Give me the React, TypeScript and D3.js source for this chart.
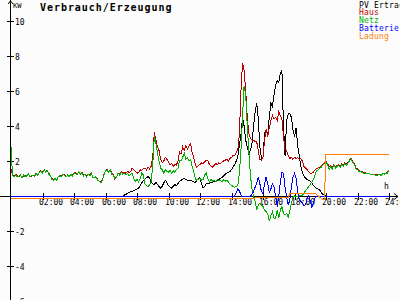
import React from 'react';
import * as d3 from 'd3';

// ---- data (kW), sampled every 0.1 h ----
const STEP_H = 0.1;

const hausKW = [
  1.55, 1.2, 1.1, 1.25, 1.15, 1.1, 1.2, 1.05, 1.15, 1.2,
  1.1, 1.25, 1.15, 1.1, 1.2, 1.15, 1.3, 1.2, 1.35, 1.45,
  1.35, 1.5, 1.4, 1.45, 1.3, 1.15, 1.0, 0.9, 1.0, 0.95,
  1.1, 1.2, 1.15, 1.25, 1.2, 1.1, 1.2, 1.15, 1.25, 1.2,
  1.3, 1.35, 1.25, 1.4, 1.3, 1.35, 1.2, 1.25, 1.15, 1.25,
  1.2, 1.3, 1.1, 1.05, 1.1, 0.95, 0.85, 0.8, 0.9, 1.25,
  1.45, 1.5, 1.4, 1.5, 1.3, 1.2, 0.95, 1.1, 1.3, 1.25,
  1.4, 1.3, 1.35, 1.3, 1.4, 1.35, 1.4, 1.6, 1.5, 1.4,
  1.3, 1.35, 1.5, 1.45, 1.55, 1.6, 1.5, 1.65, 1.55, 1.7,
  2.2, 3.64, 3.2, 2.8, 2.6, 2.1, 1.9, 2.0, 2.2, 2.1,
  1.95, 1.8, 1.85, 1.7, 1.8, 1.75, 2.0, 2.5, 2.4, 2.8,
  2.6, 2.9, 2.7, 2.85, 3.0, 2.5, 2.2, 1.8, 1.65, 1.75,
  1.8, 1.9, 1.85, 1.95, 2.05, 2.0, 1.8, 1.7, 1.65, 1.75,
  1.85, 1.8, 1.9, 1.85, 1.95, 2.0, 2.05, 2.1, 2.0, 2.15,
  2.2, 2.35, 2.3, 2.5, 2.65, 3.5, 6.0, 7.6, 7.2, 6.0,
  4.5, 3.6, 3.3, 3.2, 3.2, 3.1, 3.1, 2.6, 2.1, 2.05,
  2.2, 3.2, 3.8, 3.4, 3.9, 4.3, 4.6, 4.4, 4.5, 4.3,
  4.8, 4.6, 4.4, 3.4, 2.6, 2.6, 2.3, 2.15, 2.2, 2.1,
  2.2, 2.15, 2.2, 2.1, 2.15, 2.0, 1.7, 1.6, 1.5, 1.4,
  1.3, 1.3, 1.35, 1.5, 1.55, 1.6, 1.65, 1.7, 1.8, 1.9,
  2.0, 1.85, 1.65, 1.75, 1.6, 1.8, 1.65, 1.75, 1.8, 1.7,
  1.85, 1.75, 1.9, 1.8, 1.95, 2.05, 2.15, 1.95, 1.85, 1.6,
  1.55, 1.45, 1.4, 1.4, 1.3, 1.35, 1.25, 1.3, 1.25, 1.2,
  1.25, 1.2, 1.25, 1.2, 1.25, 1.2, 1.3, 1.25, 1.3, 1.35,
  1.5,
];

const netzKW = [
  2.8, 1.15, 1.1, 1.2, 1.1, 1.15, 1.2, 1.05, 1.2, 1.1,
  1.15, 1.25, 1.1, 1.15, 1.2, 1.1, 1.3, 1.15, 1.35, 1.4,
  1.3, 1.5, 1.35, 1.45, 1.25, 1.15, 0.95, 0.9, 1.0, 0.9,
  1.1, 1.15, 1.1, 1.25, 1.15, 1.1, 1.2, 1.1, 1.25, 1.15,
  1.3, 1.3, 1.2, 1.4, 1.25, 1.35, 1.15, 1.25, 1.1, 1.25,
  1.15, 1.3, 1.05, 1.05, 1.1, 0.9, 0.85, 0.75, 0.9, 1.2,
  1.45, 1.45, 1.35, 1.5, 1.25, 1.2, 1.0, 1.05, 1.3, 1.2,
  1.35, 1.25, 1.3, 1.2, 1.3, 1.15, 1.25, 1.3, 1.0, 0.85,
  0.95, 0.8, 1.0, 1.3, 1.2, 0.7, 0.6, 0.5, 0.65, 0.8,
  1.8, 3.4, 3.0, 2.45, 2.0, 1.6, 1.5, 1.3, 1.5, 1.4,
  1.35, 1.5, 1.3, 1.45, 1.35, 1.5, 1.6, 2.05, 2.0, 2.2,
  2.45, 2.1, 2.2, 2.0, 2.1, 1.7, 1.4, 1.0, 0.9, 0.95,
  1.0, 0.9, 0.95, 1.2, 1.3, 1.0, 0.8, 0.95, 0.85, 0.9,
  0.8, 0.95, 0.85, 0.9, 0.8, 0.95, 0.85, 0.9, 0.8, 0.7,
  0.6, 0.55, 0.5, 0.55, 0.6, 1.3, 2.6, 4.5, 6.3, 5.8,
  4.0, 2.6, 1.2, 0.4, 0.0, -0.3, -0.8, -0.5, -0.4, -0.5,
  -0.6, -0.8, -0.9, -1.0, -1.45, -1.1, -0.9, -1.25, -1.3, -0.8,
  -1.25, -0.8, -0.6, -1.0, -1.1, -1.0, -1.2, -0.9, -0.4, -0.1,
  0.0, -0.05, 0.0, 0.05, 0.0, 0.05, 0.15, 0.3, 0.4, 0.55,
  0.65, 0.8, 0.95, 1.2, 1.45, 1.5, 1.6, 1.65, 1.75, 1.85,
  1.95, 1.8, 1.5, 1.7, 1.55, 1.75, 1.6, 1.7, 1.75, 1.65,
  1.8, 1.7, 1.85, 1.75, 1.9, 2.0, 2.15, 1.9, 1.8, 1.55,
  1.5, 1.4, 1.4, 1.35, 1.3, 1.3, 1.25, 1.3, 1.25, 1.2,
  1.25, 1.2, 1.2, 1.2, 1.25, 1.15, 1.3, 1.25, 1.3, 1.3,
  1.5,
];

const PV_START_H = 7;
const pvKW = [
  0, 0, 0.05, 0.1, 0.15, 0.2, 0.25, 0.28, 0.3, 0.35,
  0.4, 0.45, 0.6, 0.75, 0.9, 0.95, 1.05, 1.1, 1.05, 0.8,
  0.7, 0.65, 0.8, 0.65, 0.55, 0.45, 0.55, 0.75, 0.9, 0.75,
  0.6, 0.5, 0.45, 0.55, 0.65, 0.6, 0.7, 0.85, 0.9, 0.95,
  1.0, 0.95, 0.9, 0.85, 0.9, 0.85, 0.8, 0.75, 0.9, 1.0,
  1.05, 0.7, 0.45, 0.55, 0.7, 0.75, 0.72, 0.78, 0.8, 0.82,
  0.85, 0.9, 0.95, 1.0, 1.05, 1.15, 1.25, 1.3, 1.35, 1.4,
  1.5, 1.65, 1.8, 2.0, 2.25, 2.9, 3.5, 4.5, 4.0, 3.2,
  2.8, 2.4, 2.6, 3.0, 4.0, 4.8, 5.3, 4.4, 2.8, 2.15,
  2.2, 3.6, 3.8, 3.5, 4.5, 5.3, 5.1, 5.8, 6.3, 6.6,
  6.5, 7.0, 7.2, 4.0, 2.3, 4.3, 4.7, 4.7, 4.5, 3.8,
  3.4, 3.9, 2.9, 2.3, 1.7, 1.35, 1.15, 1.0, 0.95, 0.9,
  0.85, 0.75, 0.6, 0.5, 0.45, 0.4, 0.35, 0.2, 0.1, 0.05,
  0,
];

// [hour, kW]
const batteriePts: [number, number][] = [
  [0, 0], [14.2, 0], [14.3, 0.2], [14.4, 0.4], [14.5, 0.3], [14.6, 0.05], [14.65, 0],
  [15.2, 0], [15.3, 0.1], [15.4, 0.25], [15.5, 0.5], [15.6, 0.7], [15.7, 1.1], [15.8, 0.7],
  [15.9, 0.25], [16.0, 0.15], [16.1, 0.7], [16.2, 1.1], [16.3, 0.7], [16.4, 0.2], [16.5, 0.4],
  [16.6, 0.7], [16.7, 0.5], [16.8, 0.0], [16.9, -0.6], [17.0, 0.0], [17.1, 0.8], [17.2, 1.35],
  [17.3, 1.3], [17.4, 0.5], [17.5, -0.05], [17.6, -0.5], [17.7, -0.25], [17.8, 0.5], [17.9, 1.05],
  [18.0, 1.3], [18.1, 1.0], [18.2, 0.3], [18.3, -0.2], [18.4, -0.3], [18.5, -0.4], [18.6, -0.55],
  [18.7, -0.5], [18.8, -0.1], [18.9, 0], [19.0, -0.3], [19.1, -0.65], [19.2, -0.4], [19.3, -0.1],
  [19.4, 0], [24, 0],
];

const ladungPts: [number, number][] = [
  [0, -0.17], [15.4, -0.17], [15.5, -0.1], [17.6, -0.1], [17.7, 0.15], [19.3, 0.15],
  [19.8, -0.2], [19.93, -0.2], [19.95, 2.38], [24, 2.38],
];

const xTickHours = [2, 4, 6, 8, 10, 12, 14, 16, 18, 20, 22, 24];
const xTickLabels = ['02:00', '04:00', '06:00', '08:00', '10:00', '12:00', '14:00', '16:00', '18:00', '20:00', '22:00', '24:00'];
const yTickValues = [-6, -4, -2, 2, 4, 6, 8, 10];
const legendLabels = ['PV Ertrag', 'Haus', 'Netz', 'Batterie', 'Ladung'];
const legendColors = ['#000000', '#c00000', '#00b000', '#0000ff', '#ff8000'];
const titleText = 'Verbrauch/Erzeugung';

const MONO = '"DejaVu Sans Mono", "Liberation Mono", monospace';

export default function App() {
  const W = 400;
  const H = 300;
  const x = d3.scaleLinear().domain([0, 24]).range([11, 389]);
  const y = d3.scaleLinear().domain([0, 10]).range([196, 21]);

  const uniform = (vals: number[], start: number): [number, number][] =>
    vals.map((v, i) => [start + i * STEP_H, v]);

  const line = d3
    .line<[number, number]>()
    .x((d) => x(d[0]))
    .y((d) => y(d[1]));

  const series = [
    { pts: uniform(pvKW, PV_START_H), color: legendColors[0] },
    { pts: uniform(hausKW, 0), color: legendColors[1] },
    { pts: uniform(netzKW, 0), color: legendColors[2] },
    { pts: batteriePts, color: legendColors[3] },
    { pts: ladungPts, color: legendColors[4] },
  ];

  const axisX = 10.5;
  const axisY = y(0) + 0.5;

  return (
    <svg
      width={W}
      height={H}
      style={{ position: 'absolute', left: 0, top: 0, background: '#fcfcfc' }}
    >
      <rect x={0} y={0} width={W} height={H} fill="#fcfcfc" />
      {/* axes */}
      <g stroke="#000" strokeWidth={1} shapeRendering="crispEdges" fill="none">
        <line x1={axisX} y1={0} x2={axisX} y2={H} />
        <line x1={0} y1={axisY} x2={398} y2={axisY} />
        <polyline points={`${axisX - 2.5},4 ${axisX},1 ${axisX + 2.5},4`} shapeRendering="auto" />
        <polyline points={`394,${axisY - 3} 398,${axisY} 394,${axisY + 3}`} shapeRendering="auto" />
        {yTickValues.map((v) => (
          <line key={v} x1={7} x2={14} y1={Math.round(y(v)) + 0.5} y2={Math.round(y(v)) + 0.5} />
        ))}
        {xTickHours.map((h) => (
          <line key={h} x1={Math.round(x(h)) + 0.5} x2={Math.round(x(h)) + 0.5} y1={193} y2={200} />
        ))}
      </g>
      {/* tick labels */}
      <g fontFamily={MONO} fontSize={8} fill="#000">
        {yTickValues.map((v) => (
          <text key={v} x={15} y={Math.round(y(v)) + 3.5}>
            {String(v)}
          </text>
        ))}
        {xTickHours.map((h, i) => (
          <text key={h} x={Math.round(x(h)) - 4} y={205}>
            {xTickLabels[i]}
          </text>
        ))}
        <text x={13} y={8} fontSize={7}>KW</text>
        <text x={384} y={189}>h</text>
      </g>
      {/* series */}
      <g fill="none" strokeWidth={1} shapeRendering="crispEdges">
        {series.map((s, i) => (
          <path key={i} d={line(s.pts) || ''} stroke={s.color} />
        ))}
      </g>
      {/* title */}
      <text x={40} y={10.5} fontFamily={MONO} fontSize={10} fontWeight="bold" letterSpacing={0.95} fill="#000">
        {titleText}
      </text>
      {/* legend */}
      <g fontFamily={MONO} fontSize={8} letterSpacing={0.2}>
        {legendLabels.map((l, i) => (
          <text key={l} x={359} y={7.5 + i * 7.9} fill={legendColors[i]}>
            {l}
          </text>
        ))}
      </g>
    </svg>
  );
}
